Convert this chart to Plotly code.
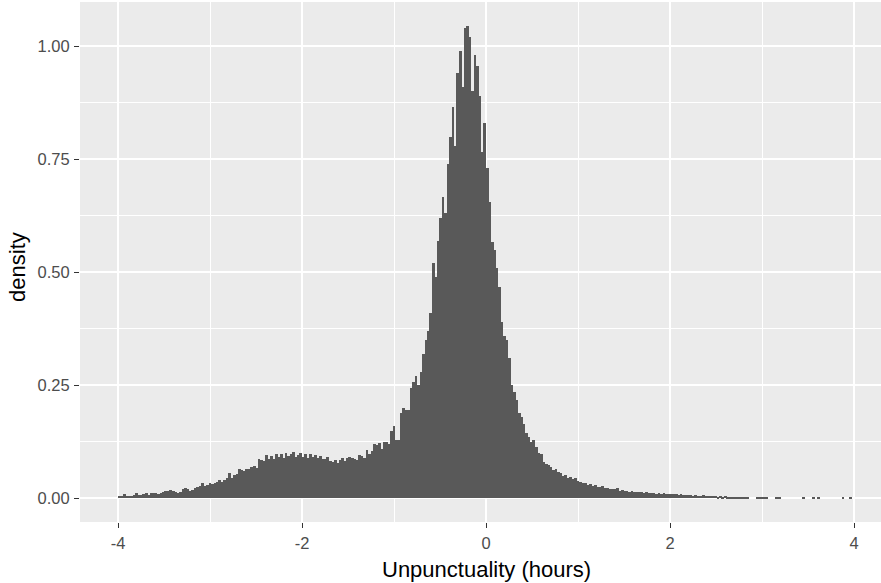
import numpy as np
import plotly.graph_objects as go

# ---- data (300 bins over [-4, 4]) ----
bin_start = -4.0
bin_end = 4.0
density = [
    0.005, 0.006, 0.009, 0.005, 0.006, 0.005, 0.007, 0.012, 0.008, 0.007,
    0.009, 0.011, 0.008, 0.012, 0.011, 0.011, 0.010, 0.012, 0.013, 0.016,
    0.017, 0.019, 0.016, 0.013, 0.012, 0.014, 0.020, 0.022, 0.021, 0.017,
    0.018, 0.022, 0.026, 0.028, 0.035, 0.027, 0.030, 0.033, 0.032, 0.034,
    0.037, 0.040, 0.036, 0.041, 0.045, 0.057, 0.046, 0.052, 0.054, 0.066,
    0.062, 0.060, 0.066, 0.064, 0.070, 0.072, 0.068, 0.088, 0.085, 0.083,
    0.095, 0.087, 0.094, 0.088, 0.098, 0.092, 0.097, 0.090, 0.100, 0.093,
    0.098, 0.102, 0.091, 0.096, 0.101, 0.092, 0.098, 0.090, 0.097, 0.092,
    0.095, 0.090, 0.093, 0.088, 0.086, 0.092, 0.082, 0.080, 0.085, 0.078,
    0.085, 0.089, 0.083, 0.090, 0.092, 0.090, 0.086, 0.085, 0.096, 0.093,
    0.090, 0.107, 0.098, 0.105, 0.120, 0.118, 0.122, 0.110, 0.124, 0.124,
    0.120, 0.150, 0.160, 0.130, 0.130, 0.188, 0.200, 0.195, 0.195, 0.245,
    0.257, 0.270, 0.250, 0.280, 0.320, 0.350, 0.370, 0.410, 0.520, 0.490,
    0.570, 0.620, 0.666, 0.630, 0.740, 0.800, 0.865, 0.780, 0.940, 0.990,
    0.910, 1.040, 1.045, 1.020, 0.900, 0.980, 0.955, 0.890, 0.765, 0.830,
    0.730, 0.655, 0.566, 0.550, 0.510, 0.467, 0.390, 0.360, 0.350, 0.310,
    0.250, 0.235, 0.217, 0.188, 0.180, 0.165, 0.144, 0.135, 0.124, 0.128,
    0.113, 0.100, 0.097, 0.080, 0.077, 0.073, 0.069, 0.063, 0.066, 0.058,
    0.055, 0.050, 0.052, 0.046, 0.047, 0.042, 0.044, 0.038, 0.037, 0.035,
    0.033, 0.030, 0.031, 0.028, 0.029, 0.026, 0.025, 0.027, 0.023, 0.022,
    0.021, 0.020, 0.020, 0.022, 0.017, 0.018, 0.016, 0.017, 0.015, 0.016,
    0.015, 0.013, 0.014, 0.013, 0.012, 0.013, 0.011, 0.012, 0.012, 0.010,
    0.011, 0.010, 0.011, 0.009, 0.010, 0.010, 0.009, 0.009, 0.008, 0.009,
    0.008, 0.007, 0.008, 0.007, 0.006, 0.007, 0.006, 0.006, 0.007, 0.005,
    0.006, 0.005, 0.005, 0.006, 0.004, 0.005, 0.004, 0.005, 0.004, 0.004,
    0.004, 0.003, 0.004, 0.003, 0.003, 0.003, 0.003, 0.000, 0.000, 0.000,
    0.003, 0.003, 0.003, 0.003, 0.003, 0.000, 0.000, 0.000, 0.003, 0.003,
    0.000, 0.000, 0.000, 0.000, 0.000, 0.000, 0.000, 0.000, 0.000, 0.003,
    0.000, 0.000, 0.000, 0.003, 0.000, 0.003, 0.000, 0.000, 0.000, 0.000,
    0.000, 0.000, 0.000, 0.000, 0.000, 0.003, 0.000, 0.000, 0.003, 0.000,
]
x_ticks = [-4, -2, 0, 2, 4]
x_tick_labels = ["-4", "-2", "0", "2", "4"]
y_ticks = [0.0, 0.25, 0.5, 0.75, 1.0]
y_tick_labels = ["0.00", "0.25", "0.50", "0.75", "1.00"]
x_title = "Unpunctuality (hours)"
y_title = "density"

n_bins = len(density)
bin_width = (bin_end - bin_start) / n_bins
bin_centers = bin_start + (np.arange(n_bins) + 0.5) * bin_width

# ---- figure ----
W, H = 881, 583
ml, mr, mt, mb = 80, 0, 2, 61
font_family = "Liberation Sans, Arial, sans-serif"
tick_font = dict(family=font_family, size=16.5, color="#4D4D4D")
title_font = dict(family=font_family, size=22, color="black")

fig = go.Figure()
fig.add_trace(go.Bar(
    x=bin_centers, y=density, width=bin_width * 1.12,
    marker=dict(color="#595959", line=dict(width=0)),
    hoverinfo="x+y", showlegend=False,
))

axis_common = dict(
    ticks="outside", ticklen=5, tickwidth=1.3, tickcolor="#333333",
    ticklabelstandoff=1,
    tickfont=tick_font,
    showgrid=True, gridcolor="white", gridwidth=2.0,
    zeroline=False, showline=False,
)

fig.update_layout(
    width=W, height=H,
    margin=dict(l=ml, r=mr, t=mt, b=mb, pad=0, autoexpand=False),
    paper_bgcolor="white",
    plot_bgcolor="#EBEBEB",
    bargap=0,
    font=dict(family=font_family),
    xaxis=dict(
        range=[-4.413, 4.293],
        tickmode="array", tickvals=x_ticks, ticktext=x_tick_labels,
        minor=dict(tickmode="array", tickvals=[-3, -1, 1, 3], showgrid=True,
                   gridcolor="white", gridwidth=1.0, ticks=""),
        **axis_common,
    ),
    yaxis=dict(
        range=[-0.0523, 1.0975],
        tickmode="array", tickvals=y_ticks, ticktext=y_tick_labels,
        minor=dict(tickmode="array", tickvals=[0.125, 0.375, 0.625, 0.875, 1.125],
                   showgrid=True, gridcolor="white", gridwidth=1.0, ticks=""),
        **axis_common,
    ),
    annotations=[
        dict(text=x_title, x=0, xref="x", y=-0.091, yref="paper",
             xanchor="center", yanchor="middle", showarrow=False,
             font=title_font),
        dict(text=y_title, x=-0.079, xref="paper", y=0.49, yref="paper",
             xanchor="center", yanchor="middle", textangle=-90, showarrow=False,
             font=title_font),
    ],
)

fig.write_html("out.html", config={"displayModeBar": False},
               post_script="document.body.style.margin='0';")
